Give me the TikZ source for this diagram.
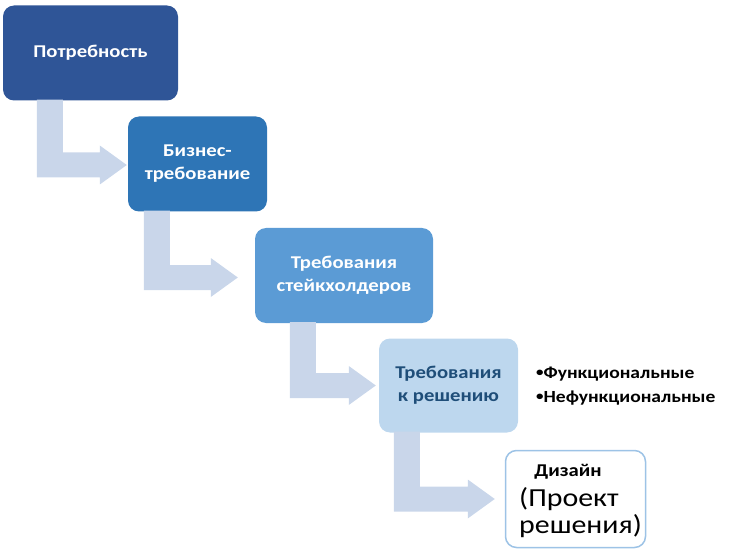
\documentclass[tikz,border=0pt]{standalone}
\usepackage{fontspec}
\setmainfont{Carlito}[FakeStretch=1.15]
\usetikzlibrary{calc}
\definecolor{cA}{HTML}{2F5597}
\definecolor{cB}{HTML}{2E75B6}
\definecolor{cC}{HTML}{5B9BD5}
\definecolor{cD}{HTML}{BDD7EE}
\definecolor{cDtext}{HTML}{1F4E79}
\definecolor{cEborder}{HTML}{9DC3E6}
\definecolor{arrowcol}{HTML}{C9D6EA}
\newcommand{\bentarrow}[5]{%
  \coordinate (s1) at ($(#1.south west)+(#3,-1)$);
  \coordinate (s2) at ($(s1)+(26,0)$);
  \coordinate (t) at ($(#2.west)+(-#4,#5)$);
  \coordinate (bt) at ($(t)+(0,-12.5)$);
  \coordinate (bb) at ($(t)+(0,12.5)$);
  \fill[arrowfill] (s1) -- (s2) -- (s2 |- bt) -- ($(bt)+(-27,0)$) -- ($(t)+(-27,-19.5)$)
     -- (t) -- ($(t)+(-27,19.5)$) -- ($(bb)+(-27,0)$) -- (s1 |- bb) -- cycle;
}
\newcommand{\smallbul}{\raisebox{1.8pt}{\fontsize{13}{13}\selectfont •}}
\begin{document}
\begin{tikzpicture}[x=1pt,y=-1pt,
  box/.style={rounded corners=11pt, minimum height=95pt, inner sep=0pt, align=center,
     font=\fontsize{18}{23}\selectfont\bfseries},
  arrowfill/.style={fill=arrowcol},
  lbl/.style={inner sep=0pt, anchor=base}]
\useasboundingbox (0,0) rectangle (729,559);
\node[box, fill=cA, text=white, minimum width=175pt] (n1) at (90.5,53) {Потребность};
\node[box, fill=cB, text=white, minimum width=139pt] (n2) at (197.5,164) {Бизнес-\\требование};
\node[box, fill=cC, text=white, minimum width=178pt] (n3) at (344,275.5) {Требования\\стейкхолдеров};
\node[box, fill=cD, text=cDtext, minimum width=139pt, minimum height=94pt] (n4) at (448.5,385.5) {Требования\\к решению};
\node[box, draw=cEborder, line width=1.5pt, fill=white, minimum width=140pt, minimum height=97pt] (n5) at (575.5,499) {};
\node[lbl, font=\fontsize{18}{20}\selectfont\bfseries] (d1) at (568,476) {Дизайн};
\node[lbl, anchor=base west, font=\fontsize{26}{27}\selectfont] (d2) at (519,506) {(Проект};
\node[lbl, anchor=base west, font=\fontsize{26}{27}\selectfont] (d3) at (519,533) {решения)};
\node[anchor=west, align=left, inner sep=0pt, font=\fontsize{17}{24}\selectfont\bfseries] (bl) at (536,386)
  {\smallbul Функциональные\\\smallbul Нефункциональные};
\bentarrow{n1}{n2}{34}{1}{1}
\bentarrow{n2}{n3}{16}{17}{2}
\bentarrow{n3}{n4}{35}{3}{0}
\bentarrow{n4}{n5}{15}{10}{0}
\end{tikzpicture}
\end{document}
